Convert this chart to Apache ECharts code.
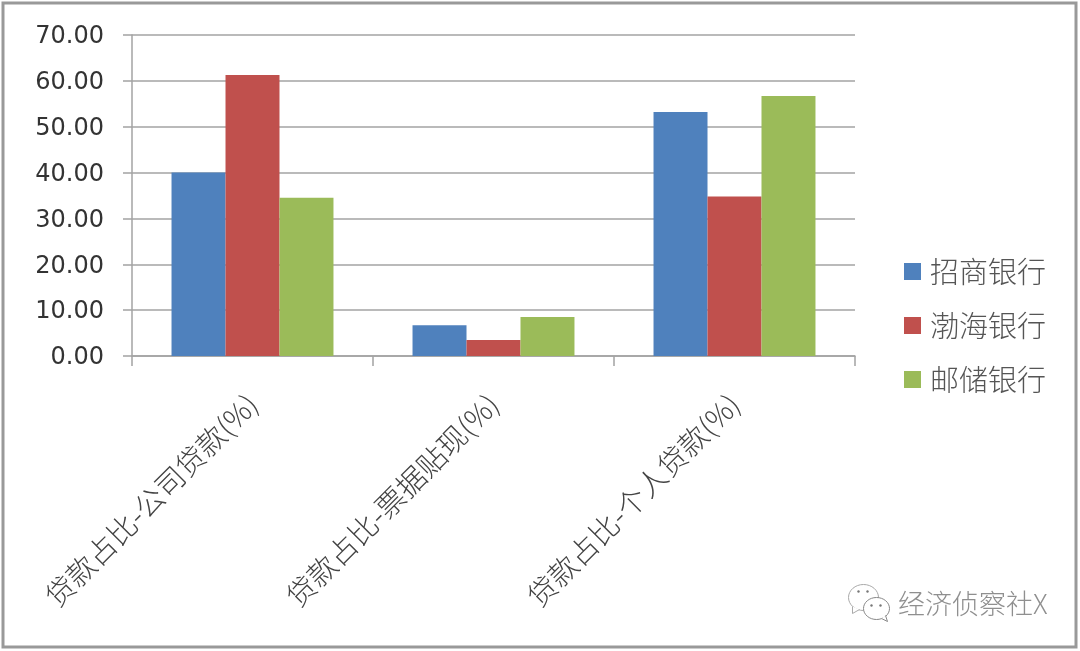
<!DOCTYPE html>
<html>
<head>
<meta charset="utf-8">
<style>
    html, body { margin: 0; padding: 0; background: #fff; }
    #chart { width: 1080px; height: 651px; }
</style>
</head>
<body>
<div id="chart"></div>
<script src="https://cdn.jsdelivr.net/npm/echarts@6/dist/echarts.min.js"></script>
<script>
var categories = ['贷款占比-公司贷款(%)', '贷款占比-票据贴现(%)', '贷款占比-个人贷款(%)'];
var seriesNames = ['招商银行', '渤海银行', '邮储银行'];
var cmbData = [40.0, 6.7, 53.2];
var cbhbData = [61.3, 3.5, 34.8];
var psbcData = [34.5, 8.5, 56.7];
var colors = ['#4f81bd', '#c0504d', '#9bbb59'];
var watermark = '经济侦察社X';

var cjkFont = '"Noto Sans CJK SC", sans-serif';
var lineColor = '#a3a3a3';

function barSeries(name, data, color) {
    return {
        name: name,
        type: 'bar',
        barGap: 0,
        barCategoryGap: '32.8%',
        itemStyle: { color: color },
        emphasis: { disabled: true },
        data: data
    };
}

var chart = echarts.init(document.getElementById('chart'));
chart.setOption({
    animation: false,
    backgroundColor: '#fff',
    color: colors,
    grid: { left: 132, top: 35, width: 723, height: 321, containLabel: false },
    legend: {
        orient: 'vertical',
        left: 899,
        top: 252,
        icon: 'rect',
        itemWidth: 17,
        itemHeight: 17,
        itemGap: 25,
        textStyle: { fontFamily: cjkFont, fontWeight: 300, fontSize: 29, color: '#555', padding: [0, 0, 0, 4] },
        data: seriesNames
    },
    xAxis: {
        type: 'category',
        data: categories,
        axisLine: { lineStyle: { color: lineColor, width: 1.5 } },
        axisTick: { show: true, length: 10, lineStyle: { color: lineColor, width: 1.5 } },
        axisLabel: {
            rotate: 45,
            interval: 0,
            margin: 43,
            fontFamily: cjkFont,
            fontWeight: 300,
            fontSize: 29,
            color: '#444'
        }
    },
    yAxis: {
        type: 'value',
        min: 0,
        max: 70,
        interval: 10,
        axisLine: { show: true, lineStyle: { color: lineColor, width: 1.5 } },
        axisTick: { show: true, length: 9, lineStyle: { color: lineColor, width: 1.5 } },
        splitLine: { lineStyle: { color: lineColor, width: 1.5 } },
        axisLabel: {
            margin: 28,
            formatter: function (v) { return '{v|' + v.toFixed(2) + '}'; },
            rich: {
                v: {
                    padding: [4, 0, 0, 0],
                    fontFamily: '"DejaVu Sans", sans-serif',
                    fontSize: 24,
                    color: '#333'
                }
            }
        }
    },
    series: [
        barSeries(seriesNames[0], cmbData, colors[0]),
        barSeries(seriesNames[1], cbhbData, colors[1]),
        barSeries(seriesNames[2], psbcData, colors[2])
    ],
    graphic: [
        {
            type: 'rect',
            silent: true,
            shape: { x: 3, y: 3, width: 1073, height: 644 },
            style: { fill: 'none', stroke: '#999', lineWidth: 3 }
        },
        {
            type: 'text',
            silent: true,
            left: 898,
            top: 590,
            style: { text: watermark, fontFamily: cjkFont, fontSize: 27, fontWeight: 300, fill: '#8f8f8f' }
        },
        {
            type: 'group',
            silent: true,
            left: 848,
            top: 584,
            children: [
                { type: 'ellipse', shape: { cx: 16, cy: 14, rx: 15, ry: 13 }, style: { fill: '#fff', stroke: '#aaa', lineWidth: 1 } },
                { type: 'polyline', shape: { points: [[5, 23], [5, 30], [12, 26]] }, style: { fill: '#fff', stroke: '#aaa', lineWidth: 1 } },
                { type: 'ellipse', shape: { cx: 29, cy: 25, rx: 13, ry: 11 }, style: { fill: '#fff', stroke: '#888', lineWidth: 1 } },
                { type: 'polyline', shape: { points: [[34, 35], [40, 38], [38, 32]] }, style: { fill: '#fff', stroke: '#888', lineWidth: 1 } },
                { type: 'circle', shape: { cx: 11, cy: 8, r: 1.2 }, style: { fill: '#777' } },
                { type: 'circle', shape: { cx: 20, cy: 8, r: 1.2 }, style: { fill: '#777' } },
                { type: 'circle', shape: { cx: 24, cy: 22, r: 1.2 }, style: { fill: '#777' } },
                { type: 'circle', shape: { cx: 33, cy: 22, r: 1.2 }, style: { fill: '#777' } }
            ]
        }
    ]
});
</script>
</body>
</html>
